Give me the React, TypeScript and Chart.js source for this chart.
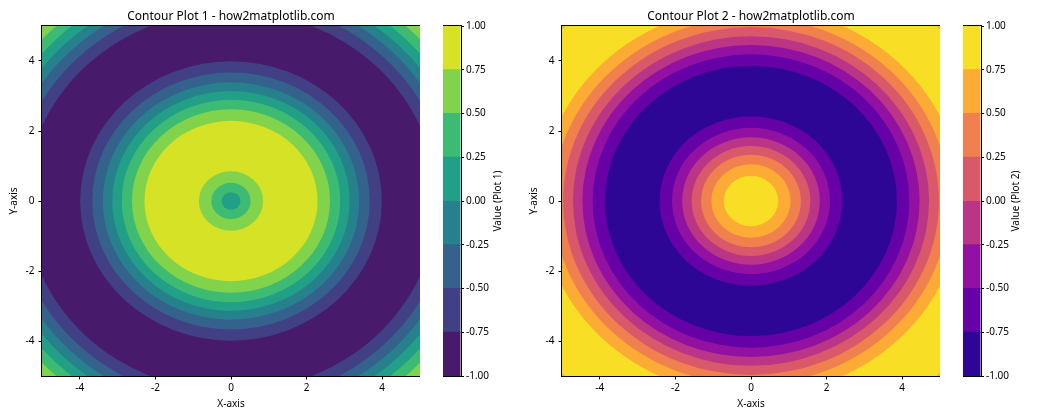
import React, { useEffect, useRef } from 'react';
import { Chart, registerables } from 'chart.js';

Chart.register(...registerables);

const FONT = "'Noto Sans', 'DejaVu Sans', sans-serif";

// ---- data ----
const levels = [-1, -0.75, -0.5, -0.25, 0, 0.25, 0.5, 0.75, 1];
const levelLabels = ['-1.00', '-0.75', '-0.50', '-0.25', '0.00', '0.25', '0.50', '0.75', '1.00'];
const viridisBands = ['#481a6c', '#424085', '#34628d', '#27818d', '#229f87', '#3ebb73', '#82d34c', '#d5e226'];
const plasmaBands = ['#2e0695', '#6501a7', '#9311a2', '#bb3587', '#d9596a', '#f0804e', '#fcab34', '#f8de24'];

const axisTicks = [-4, -2, 0, 2, 4];
const axisRange = [-5, 5];
const center = [0, 0];

// Plot 1: band beyond the outermost ring, then ring outer radii and band index inside each
const plot1Background = 6;
const plot1Radii = [6.81, 6.54, 6.28, 6.03, 5.76, 5.44, 3.99, 3.67, 3.39, 3.14, 2.89, 2.62, 2.29, 0.85, 0.52, 0.25];
const plot1Bands = [5, 4, 3, 2, 1, 0, 1, 2, 3, 4, 5, 6, 7, 6, 5, 4];

// Plot 2
const plot2Background = 6;
const plot2Radii = [7.01, 5.56, 5.24, 4.97, 4.71, 4.46, 4.19, 3.86, 2.42, 2.09, 1.82, 1.57, 1.32, 1.05, 0.72];
const plot2Bands = [7, 6, 5, 4, 3, 2, 1, 0, 1, 2, 3, 4, 5, 6, 7];

// ---- plugins ----
const contourPlugin = {
  id: 'contour',
  beforeDatasetsDraw(chart: any, _args: any, opts: any) {
    const { ctx, chartArea: a, scales } = chart;
    const x = scales.x;
    const y = scales.y;
    ctx.save();
    ctx.beginPath();
    ctx.rect(a.left, a.top, a.right - a.left, a.bottom - a.top);
    ctx.clip();
    ctx.fillStyle = opts.colors[opts.bg];
    ctx.fillRect(a.left, a.top, a.right - a.left, a.bottom - a.top);
    const cx = x.getPixelForValue(center[0]);
    const cy = y.getPixelForValue(center[1]);
    opts.radii.forEach((r: number, i: number) => {
      const rx = Math.abs(x.getPixelForValue(center[0] + r) - cx);
      const ry = Math.abs(y.getPixelForValue(center[1] + r) - cy);
      ctx.beginPath();
      ctx.ellipse(cx, cy, rx, ry, 0, 0, Math.PI * 2);
      ctx.fillStyle = opts.colors[opts.bands[i]];
      ctx.fill();
    });
    ctx.restore();
  },
};

const framePlugin = {
  id: 'frame',
  afterDraw(chart: any) {
    const { ctx, chartArea: a } = chart;
    ctx.save();
    ctx.strokeStyle = '#000';
    ctx.lineWidth = 1;
    const l = Math.round(a.left) - 0.5;
    const t = Math.round(a.top) - 0.5;
    const r = Math.round(a.right) + 0.5;
    const b = Math.round(a.bottom) + 0.5;
    ctx.strokeRect(l, t, r - l, b - t);
    ctx.restore();
  },
};

const cbTitlePlugin = {
  id: 'cbTitle',
  afterDraw(chart: any, _args: any, opts: any) {
    const { ctx, chartArea: a } = chart;
    ctx.save();
    ctx.translate(a.right + opts.offset, (a.top + a.bottom) / 2);
    ctx.rotate(-Math.PI / 2);
    ctx.textAlign = 'center';
    ctx.textBaseline = 'middle';
    ctx.fillStyle = '#000';
    ctx.font = `10px ${FONT}`;
    ctx.fillText(opts.text, 0, 0);
    ctx.restore();
  },
};

// ---- configs ----
const tickFont = { family: FONT, size: 10 };

function mainConfig(title: string, bg: number, radii: number[], bands: number[], colors: string[]): any {
  return {
    type: 'scatter',
    data: { datasets: [] },
    options: {
      responsive: false,
      animation: false,
      devicePixelRatio: 1,
      layout: { padding: 0 },
      plugins: {
        legend: { display: false },
        tooltip: { enabled: false },
        title: {
          display: true,
          text: title,
          color: '#000',
          fullSize: false,
          font: { family: FONT, size: 12, weight: 'normal', lineHeight: 1.2 },
          padding: { top: 9, bottom: 2.6 },
        },
        contour: { bg, radii, bands, colors },
      },
      scales: {
        x: {
          type: 'linear',
          min: axisRange[0],
          max: axisRange[1],
          afterBuildTicks: (s: any) => {
            s.ticks = axisTicks.map((v) => ({ value: v }));
          },
          afterFit: (s: any) => {
            s.height = 44;
          },
          grid: { drawOnChartArea: false, drawTicks: true, tickLength: 3.5, color: '#000', lineWidth: 1 },
          border: { display: false },
          ticks: { color: '#000', font: tickFont, padding: 3, maxRotation: 0, autoSkip: false },
          title: { display: true, text: 'X-axis', color: '#000', font: { ...tickFont, lineHeight: 1.2 }, padding: { top: 0, bottom: 10 } },
        },
        y: {
          type: 'linear',
          min: axisRange[0],
          max: axisRange[1],
          afterBuildTicks: (s: any) => {
            s.ticks = axisTicks.map((v) => ({ value: v }));
          },
          afterFit: (s: any) => {
            s.width = 42;
          },
          grid: { drawOnChartArea: false, drawTicks: true, tickLength: 3.5, color: '#000', lineWidth: 1 },
          border: { display: false },
          ticks: { color: '#000', font: tickFont, padding: 4, autoSkip: false },
          title: { display: true, text: 'Y-axis', color: '#000', font: { ...tickFont, lineHeight: 1.2 }, padding: { top: 8, bottom: 0 } },
        },
      },
    },
    plugins: [contourPlugin, framePlugin],
  };
}

function colorbarConfig(label: string, colors: string[], canvasWidth: number, barWidth: number, titleOffset: number): any {
  return {
    type: 'bar',
    data: {
      labels: [''],
      datasets: colors.map((c, i) => ({
        data: [[levels[i], levels[i + 1]]],
        backgroundColor: c,
        borderWidth: 0,
        barPercentage: 1,
        categoryPercentage: 1,
        grouped: false,
        inflateAmount: 0.5,
      })),
    },
    options: {
      responsive: false,
      animation: false,
      devicePixelRatio: 1,
      layout: { padding: { top: 26, bottom: 44, left: 0, right: 0 } },
      plugins: {
        legend: { display: false },
        tooltip: { enabled: false },
        cbTitle: { text: label, offset: titleOffset },
      },
      scales: {
        x: { display: false },
        y: {
          position: 'right',
          min: levels[0],
          max: levels[levels.length - 1],
          afterBuildTicks: (s: any) => {
            s.ticks = levels.map((v) => ({ value: v }));
          },
          afterFit: (s: any) => {
            s.width = canvasWidth - barWidth;
          },
          grid: { drawOnChartArea: false, drawTicks: true, tickLength: 3.5, color: '#000', lineWidth: 1 },
          border: { display: false },
          ticks: {
            color: '#000',
            font: tickFont,
            padding: 2,
            autoSkip: false,
            callback: (_v: any, i: number) => levelLabels[i],
          },
        },
      },
    },
    plugins: [framePlugin, cbTitlePlugin],
  };
}

function ChartCanvas({ config, left, top, width, height }: { config: any; left: number; top: number; width: number; height: number }) {
  const ref = useRef<HTMLCanvasElement>(null);
  useEffect(() => {
    const chart = new Chart(ref.current as HTMLCanvasElement, config);
    return () => chart.destroy();
  }, []);
  return (
    <canvas
      ref={ref}
      width={width}
      height={height}
      style={{ position: 'absolute', left, top, width, height, display: 'block' }}
    />
  );
}

export default function App() {
  return (
    <div style={{ position: 'absolute', left: 0, top: 0, width: 1050, height: 420, background: '#fff', overflow: 'hidden' }}>
      <ChartCanvas
        config={mainConfig('Contour Plot 1 - how2matplotlib.com', plot1Background, plot1Radii, plot1Bands, viridisBands)}
        left={0}
        top={0}
        width={420}
        height={420}
      />
      <ChartCanvas config={colorbarConfig('Value (Plot 1)', viridisBands, 80, 17.5, 37.5)} left={443} top={0} width={80} height={420} />
      <ChartCanvas
        config={mainConfig('Contour Plot 2 - how2matplotlib.com', plot2Background, plot2Radii, plot2Bands, plasmaBands)}
        left={520}
        top={0}
        width={420}
        height={420}
      />
      <ChartCanvas config={colorbarConfig('Value (Plot 2)', plasmaBands, 80, 17.5, 35.5)} left={963} top={0} width={80} height={420} />
    </div>
  );
}
